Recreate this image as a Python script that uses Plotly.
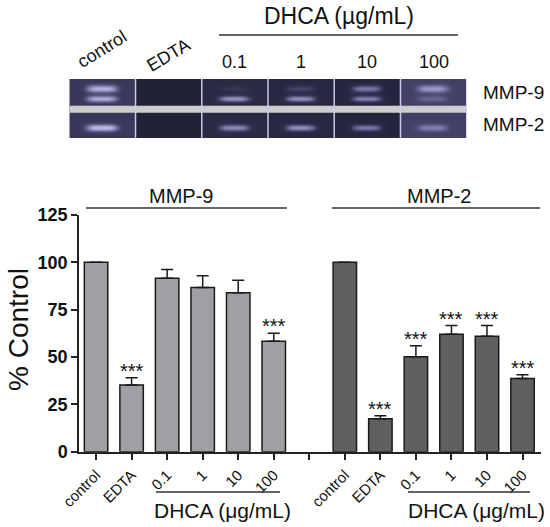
import numpy as np
import plotly.graph_objects as go

# bar chart data (% of control, mean and SEM)
categories = ['control', 'EDTA', '0.1', '1', '10', '100']
mmp9_mean = [100, 35.2, 91.6, 86.7, 83.9, 58.3]
mmp9_sem = [0, 3.9, 4.6, 6.2, 6.7, 4.3]
mmp2_mean = [100, 17.4, 50.2, 62.0, 61.0, 38.6]
mmp2_sem = [0, 1.6, 5.8, 4.6, 5.6, 2.1]
mmp9_sig = ['', '***', '', '', '', '***']
mmp2_sig = ['', '***', '***', '***', '***', '***']
y_ticks = [0, 25, 50, 75, 100, 125]

# zymogram band intensities per lane (0 = dark, 1 = bright)
gel_mmp9_upper = [0.7, 0.0, 0.1, 0.25, 0.55, 0.5]
gel_mmp9_lower = [0.65, 0.0, 0.65, 0.65, 0.6, 0.2]
gel_mmp2 = [0.8, 0.0, 0.6, 0.65, 0.55, 0.35]
gel_lane_bg = [0.3, 0.05, 0.15, 0.12, 0.1, 0.35]

W, H = 550, 527


def px(x):
    return x / W


def py(y):
    return 1 - y / H


x9 = list(range(len(categories)))
x2 = [i + len(categories) + 1 for i in x9]

fig = go.Figure()

fig.add_trace(go.Bar(
    x=x9, y=mmp9_mean, width=0.66,
    marker=dict(color='#a0a0a4', line=dict(color='#1a1a1a', width=1.5)),
    error_y=dict(type='data', symmetric=False, array=mmp9_sem,
                 arrayminus=[0] * len(mmp9_sem), color='#1a1a1a',
                 thickness=1.5, width=6),
))
fig.add_trace(go.Bar(
    x=x2, y=mmp2_mean, width=0.66,
    marker=dict(color='#606060', line=dict(color='#1a1a1a', width=1.5)),
    error_y=dict(type='data', symmetric=False, array=mmp2_sem,
                 arrayminus=[0] * len(mmp2_sem), color='#1a1a1a',
                 thickness=1.5, width=6),
))

# gel picture drawn as a heatmap (pixel grid)
gw, gh = 397, 59
lane_w = gw / len(categories)
gx = np.arange(gw) + 0.5
gy = np.arange(gh) + 0.5
GX, GY = np.meshgrid(gx, gy)
z = np.zeros((gh, gw))
for i in range(len(categories)):
    cx = (i + 0.5) * lane_w
    in_lane = (GX >= i * lane_w) & (GX < (i + 1) * lane_w)
    hprof = np.exp(-((GX - cx) / 15) ** 4)
    band = (gel_mmp9_upper[i] * hprof * np.exp(-((GY - 10) / 3.5) ** 2)
            + gel_mmp9_lower[i] * hprof * np.exp(-((GY - 20) / 3) ** 2)
            + gel_mmp2[i] * hprof * np.exp(-((GY - 49) / 3.2) ** 2))
    z = np.where(in_lane, gel_lane_bg[i] + band, z)
z = np.clip(z, 0, 1)

fig.add_trace(go.Heatmap(
    x=gx, y=gy, z=z, xaxis='x2', yaxis='y2',
    colorscale=[[0, '#1c1c30'], [0.3, '#38385a'], [0.6, '#7070a0'], [1, '#b4b4da']],
    zmin=0, zmax=1, showscale=False, hoverinfo='skip',
))

shapes = []
# gap between the two gel strips
shapes.append(dict(type='rect', xref='x2', yref='y2', x0=0, x1=gw, y0=26.7, y1=33.7,
                   fillcolor='#cdcdcd', line=dict(width=0)))
for i in range(1, len(categories)):
    shapes.append(dict(type='line', xref='x2', yref='y2', x0=i * lane_w, x1=i * lane_w,
                       y0=0, y1=gh, line=dict(color='#c4cce6', width=1.5)))

# lines under headings
line_style = dict(color='#333333', width=1.5)
shapes.append(dict(type='line', xref='paper', yref='paper', x0=px(219), x1=px(458),
                   y0=py(35), y1=py(35), line=line_style))
shapes.append(dict(type='line', xref='paper', yref='paper', x0=px(86), x1=px(287),
                   y0=py(208), y1=py(208), line=line_style))
shapes.append(dict(type='line', xref='paper', yref='paper', x0=px(332), x1=px(540),
                   y0=py(208), y1=py(208), line=line_style))
shapes.append(dict(type='line', xref='paper', yref='paper', x0=px(156), x1=px(280),
                   y0=py(492), y1=py(492), line=line_style))
shapes.append(dict(type='line', xref='paper', yref='paper', x0=px(408), x1=px(530),
                   y0=py(492), y1=py(492), line=line_style))

ann = []


def label(text, x, y, size, xref='paper', yref='paper', angle=0, xanchor='center'):
    return dict(text=text, x=x, y=y, xref=xref, yref=yref, textangle=angle,
                xanchor=xanchor, yanchor='middle', showarrow=False,
                font=dict(size=size, color='#111'))


# gel labels
ann.append(label('DHCA (µg/mL)', px(339), py(16), 23))
gel_label_y = [49, 55, 62, 62, 62, 62]
gel_label_angle = [-32, -31, 0, 0, 0, 0]
for i, c in enumerate(categories):
    ann.append(label(c, (i + 0.5) * lane_w, py(gel_label_y[i]), 18, xref='x2',
                     angle=gel_label_angle[i]))
ann.append(label('MMP-9', px(481), py(92), 19, xanchor='left'))
ann.append(label('MMP-2', px(481), py(124), 19, xanchor='left'))

# chart headings
ann.append(label('MMP-9', px(181), py(196), 20))
ann.append(label('MMP-2', px(439), py(196), 20))
ann.append(label('DHCA (μg/mL)', px(222), py(510), 21))
ann.append(label('DHCA (μg/mL)', px(476), py(510), 21))
ann.append(label('% Control', px(18), py(330), 28, angle=-90))

# significance stars
for xs, mean, sem, sig in [(x9, mmp9_mean, mmp9_sem, mmp9_sig),
                           (x2, mmp2_mean, mmp2_sem, mmp2_sig)]:
    for xi, m, s, t in zip(xs, mean, sem, sig):
        if t:
            a = label(t, xi, m + s, 20, xref='x', yref='y')
            a['yshift'] = 7
            ann.append(a)

fig.update_layout(
    width=W, height=H,
    margin=dict(l=0, r=0, t=0, b=0),
    paper_bgcolor='white', plot_bgcolor='white',
    showlegend=False,
    font=dict(family='Liberation Sans, Arial, sans-serif', color='#111'),
    xaxis=dict(
        domain=[px(79), px(541)], range=[-0.48, 12.52],
        tickvals=list(range(13)), ticktext=categories + [''] + categories,
        tickangle=-45, ticks='outside', ticklen=7, tickwidth=1.5, tickcolor='#222',
        showline=True, linecolor='#222', linewidth=1.5,
        showgrid=False, zeroline=False, tickfont=dict(size=15, color='#111'),
        anchor='y', automargin=False,
    ),
    yaxis=dict(
        domain=[py(451.7), py(215)], range=[0, 125],
        tickvals=y_ticks, ticks='outside', ticklen=6, tickwidth=1.5, tickcolor='#222',
        showline=True, linecolor='#222', linewidth=1.5,
        showgrid=False, zeroline=False,
        tickfont=dict(size=18, color='#111', weight='bold'),
        anchor='x', automargin=False,
    ),
    xaxis2=dict(domain=[px(69.3), px(466.7)], range=[0, gw], visible=False,
                anchor='y2', automargin=False),
    yaxis2=dict(domain=[py(138), py(79)], range=[gh, 0], visible=False,
                anchor='x2', automargin=False),
    shapes=shapes,
    annotations=ann,
)

# drop the default page margin so the figure fills the window
fig.write_html('out.html', config={'displayModeBar': False},
               post_script="document.body.style.margin = '0';")
